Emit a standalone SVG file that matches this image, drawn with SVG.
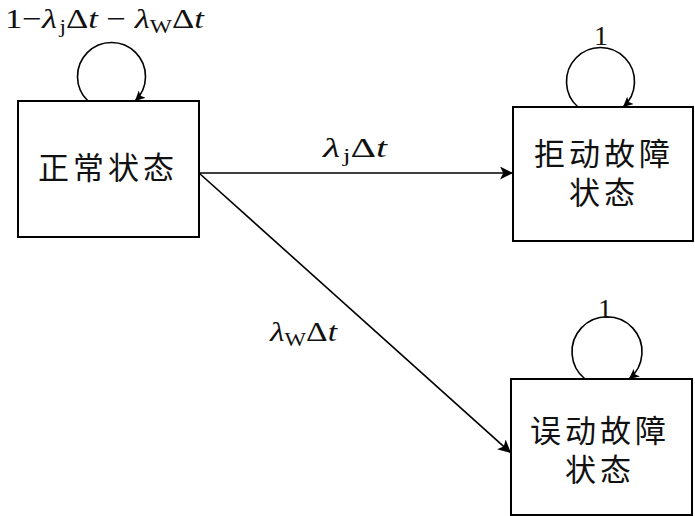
<svg xmlns="http://www.w3.org/2000/svg" width="695" height="516" viewBox="0 0 695 516">
<defs>
<marker id="ah" viewBox="0 0 10 10" refX="10" refY="5" markerWidth="10" markerHeight="10" markerUnits="userSpaceOnUse" orient="auto">
<path d="M0,0 L10,5 L0,10 L2.5,5 z" fill="#000"/>
</marker>
<marker id="ahb" viewBox="0 0 10 10" refX="10" refY="5" markerWidth="13" markerHeight="13" markerUnits="userSpaceOnUse" orient="auto">
<path d="M0,0 L10,5 L0,10 L2.5,5 z" fill="#000"/>
</marker>
</defs>
<style>
rect{fill:#fff;stroke:#000;stroke-width:2}
.c{fill:none;stroke:#000;stroke-width:1.6}
.cn{font-family:"Liberation Serif","Noto Sans CJK SC",sans-serif;font-size:31px;fill:#111;text-anchor:middle;letter-spacing:4px}
.m{font-family:"Liberation Serif",serif;font-size:28px;fill:#111}
.i{font-style:italic}
.s{font-size:19px}
</style>
<rect x="0" y="0" width="695" height="516" style="fill:#fff;stroke:none"/>
<g id="connectors">
<path class="c" d="M199,173 L513,173" marker-end="url(#ahb)"/>
<path class="c" d="M199,173 L511,453" marker-end="url(#ahb)"/>
<path class="c" d="M88,101 A34,34 0 1 1 135,101" marker-end="url(#ah)"/>
<path class="c" d="M578,107 A34,34 0 1 1 623,107" marker-end="url(#ah)"/>
<path class="c" d="M585,379 A35,35 0 1 1 629,379" marker-end="url(#ah)"/>
<text class="m" x="5" y="28" textLength="199" lengthAdjust="spacingAndGlyphs">1−<tspan class="i">λ</tspan><tspan class="s" dx="2" dy="5">j</tspan><tspan dy="-5">Δ</tspan><tspan class="i">t</tspan> − <tspan class="i">λ</tspan><tspan class="s" dy="5">W</tspan><tspan dy="-5">Δ</tspan><tspan class="i">t</tspan></text>
<text class="m" x="323" y="157" textLength="64" lengthAdjust="spacingAndGlyphs"><tspan class="i">λ</tspan><tspan class="s" dx="2" dy="5">j</tspan><tspan dy="-5">Δ</tspan><tspan class="i">t</tspan></text>
<text class="m" x="270" y="341" textLength="67" lengthAdjust="spacingAndGlyphs"><tspan class="i">λ</tspan><tspan class="s" dy="5">W</tspan><tspan dy="-5">Δ</tspan><tspan class="i">t</tspan></text>
<text class="m" x="601" y="45" text-anchor="middle">1</text>
<text class="m" x="605" y="318" text-anchor="middle">1</text>
</g>
<g id="normal">
<rect x="18" y="101" width="181" height="136"/>
<text class="cn" x="108" y="179">正常状态</text>
</g>
<g id="refuse">
<rect x="513" y="107" width="180" height="134"/>
<text class="cn"><tspan x="604" y="165">拒动故障</tspan><tspan x="604" y="204">状态</tspan></text>
</g>
<g id="misop">
<rect x="511" y="379" width="181" height="136"/>
<text class="cn"><tspan x="600" y="442">误动故障</tspan><tspan x="600" y="481">状态</tspan></text>
</g>
</svg>
